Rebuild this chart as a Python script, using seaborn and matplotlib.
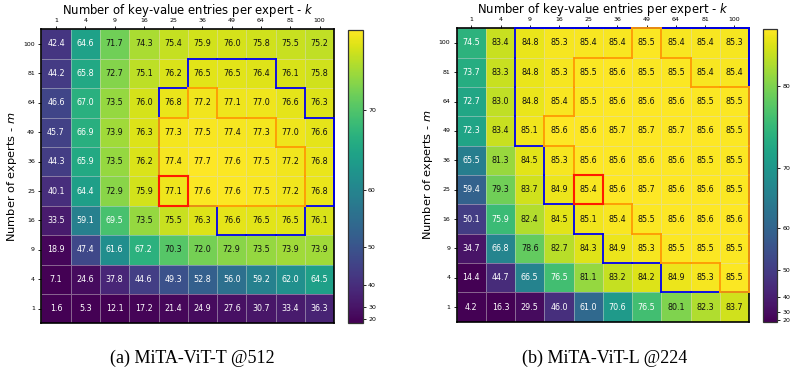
import numpy as np
import pandas as pd
import matplotlib
matplotlib.use("Agg")
import matplotlib.pyplot as plt
from matplotlib.colors import PowerNorm
import seaborn as sns

k_values = [1, 4, 9, 16, 25, 36, 49, 64, 81, 100]
m_values = [100, 81, 64, 49, 36, 25, 16, 9, 4, 1]

acc_tiny = [
    [42.4, 64.6, 71.7, 74.3, 75.4, 75.9, 76.0, 75.8, 75.5, 75.2],
    [44.2, 65.8, 72.7, 75.1, 76.2, 76.5, 76.5, 76.4, 76.1, 75.8],
    [46.6, 67.0, 73.5, 76.0, 76.8, 77.2, 77.1, 77.0, 76.6, 76.3],
    [45.7, 66.9, 73.9, 76.3, 77.3, 77.5, 77.4, 77.3, 77.0, 76.6],
    [44.3, 65.9, 73.5, 76.2, 77.4, 77.7, 77.6, 77.5, 77.2, 76.8],
    [40.1, 64.4, 72.9, 75.9, 77.1, 77.6, 77.6, 77.5, 77.2, 76.8],
    [33.5, 59.1, 69.5, 73.5, 75.5, 76.3, 76.6, 76.5, 76.5, 76.1],
    [18.9, 47.4, 61.6, 67.2, 70.3, 72.0, 72.9, 73.5, 73.9, 73.9],
    [7.1, 24.6, 37.8, 44.6, 49.3, 52.8, 56.0, 59.2, 62.0, 64.5],
    [1.6, 5.3, 12.1, 17.2, 21.4, 24.9, 27.6, 30.7, 33.4, 36.3],
]

acc_large = [
    [74.5, 83.4, 84.8, 85.3, 85.4, 85.4, 85.5, 85.4, 85.4, 85.3],
    [73.7, 83.3, 84.8, 85.3, 85.5, 85.6, 85.5, 85.5, 85.4, 85.4],
    [72.7, 83.0, 84.8, 85.4, 85.5, 85.6, 85.6, 85.6, 85.5, 85.5],
    [72.3, 83.4, 85.1, 85.6, 85.6, 85.7, 85.7, 85.7, 85.6, 85.5],
    [65.5, 81.3, 84.5, 85.3, 85.6, 85.6, 85.6, 85.6, 85.5, 85.5],
    [59.4, 79.3, 83.7, 84.9, 85.4, 85.6, 85.7, 85.6, 85.6, 85.5],
    [50.1, 75.9, 82.4, 84.5, 85.1, 85.4, 85.5, 85.6, 85.6, 85.6],
    [34.7, 66.8, 78.6, 82.7, 84.3, 84.9, 85.3, 85.5, 85.5, 85.5],
    [14.4, 44.7, 66.5, 76.5, 81.1, 83.2, 84.2, 84.9, 85.3, 85.5],
    [4.2, 16.3, 29.5, 46.0, 61.0, 70.6, 76.5, 80.1, 82.3, 83.7],
]

# contour thresholds (accuracy) per panel
blue_thr = [76.35, 84.65]
orange_thr = [77.15, 85.45]
highlight = (25, 25)  # (m, k) cell boxed in red

cbar_ticks = [[20, 30, 40, 50, 60, 70], [20, 30, 40, 50, 60, 70, 80]]
captions = ["(a) MiTA-ViT-T @512", "(b) MiTA-ViT-L @224"]

W, H = 791, 375
fig = plt.figure(figsize=(W / 100, H / 100), dpi=100)

def px_rect(x0, y0, x1, y1):
    return [x0 / W, 1 - y1 / H, (x1 - x0) / W, (y1 - y0) / H]

ax_rects = [px_rect(41.3, 29.3, 334.3, 323.3), px_rect(456.7, 28.3, 749.0, 321.7)]
cb_rects = [px_rect(347.7, 30.0, 362.5, 322.7), px_rect(762.7, 29.3, 777.3, 321.7)]
cap_x = [192, 605]


def draw_boundary(ax, mask, color, lw):
    n, m = mask.shape
    for i in range(n):
        for j in range(m):
            if not mask[i, j]:
                continue
            segs = []
            if i == 0 or not mask[i - 1, j]:
                segs.append(([j, j + 1], [i, i]))
            if i == n - 1 or not mask[i + 1, j]:
                segs.append(([j, j + 1], [i + 1, i + 1]))
            if j == 0 or not mask[i, j - 1]:
                segs.append(([j, j], [i, i + 1]))
            if j == m - 1 or not mask[i, j + 1]:
                segs.append(([j + 1, j + 1], [i, i + 1]))
            for xs, ys in segs:
                ax.plot(xs, ys, color=color, lw=lw, solid_capstyle="projecting",
                        zorder=5, clip_on=False, snap=True)


for p, data in enumerate([acc_tiny, acc_large]):
    arr = np.array(data)
    df = pd.DataFrame(arr, index=m_values, columns=k_values)
    vmin, vmax = arr.min(), arr.max()
    norm = PowerNorm(gamma=3, vmin=vmin, vmax=vmax)
    ax = fig.add_axes(ax_rects[p])
    cax = fig.add_axes(cb_rects[p])
    sns.heatmap(df, ax=ax, cbar_ax=cax, cmap="viridis", norm=norm,
                annot=True, fmt=".1f", annot_kws={"fontsize": 5.8},
                linewidths=0.4, linecolor=(0.85, 0.85, 0.85, 0.45),
                cbar_kws={"ticks": cbar_ticks[p]})
    for t in ax.texts:
        v = float(t.get_text())
        t.set_color("#111111" if norm(v) > 0.72 else "white")
    ax.xaxis.tick_top()
    ax.xaxis.set_label_position("top")
    ax.set_xlabel("Number of key-value entries per expert - $k$", fontsize=8.4, labelpad=3)
    ax.set_ylabel("Number of experts - $m$", fontsize=8.2, labelpad=3)
    ax.tick_params(axis="both", labelsize=4.5, length=2.5, width=0.6, pad=2)
    ax.tick_params(axis="y", rotation=0)
    for s in ax.spines.values():
        s.set_visible(True)
        s.set_linewidth(1.2)
        s.set_color("black")
    cb = ax.collections[0].colorbar
    cb.outline.set_visible(True)
    cb.outline.set_linewidth(0.9)
    cb.outline.set_edgecolor("#333333")
    cax.tick_params(labelsize=4.5, length=2, width=0.6, pad=2)

    draw_boundary(ax, arr >= blue_thr[p], "#0000ee", 1.3)
    draw_boundary(ax, arr >= orange_thr[p], "#ff9a00", 1.3)
    hm = np.zeros_like(arr, dtype=bool)
    hm[m_values.index(highlight[0]), k_values.index(highlight[1])] = True
    draw_boundary(ax, hm, "#ff1a00", 1.5)

    fig.text(cap_x[p] / W, 1 - 358 / H, captions[p], ha="center", va="center",
             fontsize=13, family="Liberation Serif")

fig.savefig("out.png", dpi=100)
